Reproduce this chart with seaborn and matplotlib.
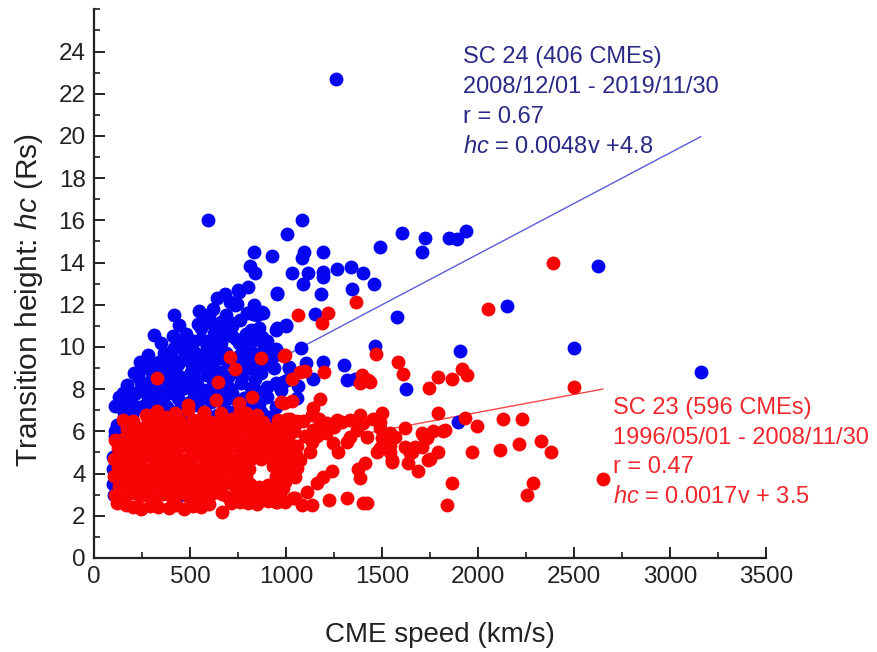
import matplotlib
matplotlib.use("Agg")
import matplotlib.pyplot as plt
from matplotlib.ticker import MultipleLocator, AutoMinorLocator
import pandas as pd
import seaborn as sns

# SC 24 CMEs (speed km/s, transition height Rs)
sc24_speed = [
    1260, 594, 1083, 1005, 1604, 1724, 1708, 1849, 1891, 1937, 1490, 833, 927, 1094, 1083, 1193,
    812, 838, 1031, 1115, 1193, 1193, 1266, 1339, 1401, 1458, 1089, 1344, 802, 750, 953, 1182,
    708, 2625, 2151, 1578, 1151, 1000, 1078, 1464, 1906, 2500, 3161, 1016, 1104, 1193, 1302, 1141,
    984, 1318, 1359, 1625, 969, 1063, 1057, 1896, 734, 755, 955, 747, 833, 877, 851, 799,
    417, 443, 547, 599, 616, 660, 712, 816, 946, 998, 828, 880, 953, 720,
    312, 686, 625, 877, 833, 451, 486, 660, 755, 469, 417, 365, 521, 590, 616, 686,
    781, 885, 920, 382, 434, 503, 573, 729, 799, 851, 208, 243, 295, 347, 417, 451,
    503, 538, 590, 660, 781, 833, 868, 1016, 1007, 972, 130, 191, 252, 347, 408, 469,
    521, 573, 703, 764, 816, 903, 946, 122, 234, 312, 382, 451, 538, 608, 677, 747,
    868, 911, 946, 156, 399, 486,
    560, 520, 640, 700, 760, 820, 560, 470, 530, 620, 700, 740, 620, 480, 400, 320,
    280, 220, 170, 360, 440, 500, 560, 640, 660, 720, 780, 850, 800, 860, 900, 270,
    200, 330, 420, 580, 640, 720, 800, 930, 150, 110, 265, 300, 370, 340, 600, 720,
    790, 540, 580, 870, 940, 980,
    480, 560, 650, 690, 760, 780, 860, 900, 620, 640, 680, 410, 350, 280, 240, 300,
    400, 510, 660, 740, 830, 900, 950, 300, 230, 170, 150, 450, 530, 600, 700, 770,
    840, 380, 440, 250, 330,
    100, 100, 105, 110, 100, 110, 200, 300, 400, 500, 600, 700, 350, 450, 550, 650,
    250, 800, 900, 150,
]
sc24_height = [
    22.7, 16.0, 16.0, 15.35, 15.4, 15.15, 14.5, 15.15, 15.1, 15.5, 14.75, 14.5, 14.3, 14.5, 14.2, 14.5,
    13.85, 13.5, 13.5, 13.5, 13.55, 13.3, 13.7, 13.8, 13.5, 13.0, 13.0, 12.75, 12.85, 12.7, 12.55, 12.5,
    12.15, 13.85, 11.95, 11.4, 11.55, 11.0, 9.95, 10.05, 9.8, 9.95, 8.8, 9.05, 9.25, 9.3, 9.15, 8.5,
    8.35, 8.45, 8.5, 8.0, 8.1, 8.15, 7.6, 6.45, 12.0, 12.62, 12.51, 12.04, 12.0, 11.68, 11.52, 11.6,
    11.52, 11.04, 11.72, 11.52, 11.12, 11.2, 11.12, 10.8, 10.8, 11.04, 11.55, 11.6, 10.9, 11.0,
    10.57, 10.8, 10.65, 10.49, 10.33, 10.17, 10.25, 10.17, 10.17, 9.86, 9.94, 9.7, 9.78, 10.0, 9.46, 9.7,
    9.86, 9.94, 9.39, 9.39, 9.15, 9.23, 9.23, 9.15, 9.31, 9.54, 8.75, 8.28, 8.44, 8.67, 8.91, 8.6,
    8.83, 8.44, 8.67, 8.83, 8.91, 8.91, 8.75, 8.99, 8.44, 7.96, 7.65, 7.57, 8.04, 8.12, 7.8, 8.04,
    7.8, 7.96, 8.04, 8.28, 8.04, 7.65, 8.28, 6.3, 7.17, 6.93, 7.17, 7.33, 7.25, 7.41, 7.09, 7.49,
    6.93, 6.69, 7.17, 6.7, 6.54, 6.7,
    10.4, 10.3, 9.95, 9.3, 9.6, 9.2, 9.6, 9.5, 9.0, 9.0, 8.6, 8.8, 8.4, 8.3, 8.4, 8.0,
    7.7, 7.8, 7.2, 7.5, 7.6, 7.4, 7.6, 7.7, 8.0, 7.8, 7.6, 7.9, 7.2, 7.3, 8.1, 7.3,
    6.8, 6.7, 6.9, 6.9, 6.8, 6.9, 6.7, 6.5, 7.0, 7.2, 9.0, 9.15, 8.9, 9.3, 10.3, 10.5,
    10.6, 11.1, 11.3, 9.0, 9.0, 9.6,
    10.6, 10.9, 10.5, 11.5, 11.3, 10.1, 10.9, 10.3, 11.8, 12.3, 12.5, 10.5, 10.2, 9.6, 9.3, 8.8,
    9.6, 9.6, 9.5, 10.4, 9.7, 9.5, 9.9, 7.5, 8.6, 8.2, 7.8, 8.2, 8.2, 7.8, 7.6, 8.6,
    8.5, 8.1, 9.2, 7.1, 7.9,
    4.8, 3.5, 3.0, 5.8, 4.2, 6.0, 4.0, 3.5, 5.0, 4.5, 3.8, 5.2, 5.5, 3.0, 5.8, 4.2,
    5.2, 4.5, 5.5, 3.8,
]

# SC 23 CMEs: scattered points first, then the dense block row by row
sc23_speed = [
    2391, 2052, 1365, 1063, 1219, 1188, 995, 1469, 1099, 1198, 1031, 1396, 1427, 1385, 1438, 1583,
    1609, 1745, 1792, 1865, 1917, 1943, 2500, 975, 1031, 1177, 1141, 1792, 1932, 1995, 2130, 2229,
    1828, 1969, 2115, 2214, 2328, 2380, 2651, 1865, 2286, 2255, 1838, 1790, 1818, 1708, 1734, 1750,
    1656, 1672, 1635, 1688, 1620, 1568, 1542, 1552, 1490, 1500, 1474, 1422, 1411, 1375, 1385, 1422,
    1401, 1318, 1224, 1240, 1193, 1161, 1109, 1083, 1135, 1047, 984, 995, 1271, 1333, 1370, 1292,
    1245, 1318, 1490, 1542, 1193, 1141, 1135, 1125, 1073, 1010, 1057, 1047, 995, 1385, 1453, 1490,
    1401, 1333, 1266, 1214, 1135, 1500, 1542, 1713, 1766, 1708, 1646, 1740, 1552, 1620,
    328, 708, 734, 646, 872, 990, 1073, 490, 204, 634, 825, 278, 373, 573, 755, 790,
    990, 625, 666, 951, 1038,
    1000, 1040, 1020, 1090, 1060, 1100, 1170, 1160, 1210, 1250, 1050, 1020,
    # h ~ 2.4
    120, 165, 205, 245, 290, 335, 390, 425, 470, 515, 560, 600, 715, 760, 800, 850, 905, 950,
    # h ~ 3.0
    110, 150, 195, 240, 280, 320, 360, 405, 445, 490, 535, 575, 620, 665, 700, 745, 790, 835, 880, 925, 970,
    # h ~ 3.4
    130, 175, 215, 255, 300, 345, 385, 430, 470, 510, 555, 600, 640, 685, 730, 770, 815, 860, 905, 945,
    # h ~ 3.85
    105, 150, 190, 235, 275, 320, 360, 400, 445, 490, 530, 575, 615, 660, 700, 745, 790, 950, 995,
    # h ~ 4.3
    125, 165, 210, 250, 295, 340, 380, 420, 465, 505, 550, 590, 635, 680, 720, 765, 810, 930, 975, 1020,
    # h ~ 4.75
    105, 145, 185, 230, 270, 315, 355, 400, 440, 485, 525, 570, 610, 655, 695, 740, 780, 825, 870, 915, 960, 1005,
    # h ~ 5.2
    125, 170, 210, 255, 295, 335, 380, 420, 460, 505, 545, 590, 630, 675, 715, 760, 800, 845, 890, 935, 985,
    # h ~ 5.65
    110, 150, 195, 235, 280, 320, 365, 405, 445, 490, 530, 575, 615, 660, 700, 740, 785, 830, 870, 915, 960, 1010,
    # h ~ 6.1
    170, 215, 255, 300, 340, 385, 425, 470, 510, 555, 595, 640, 680, 725, 765, 810, 855, 900, 945, 990, 1040,
    # h ~ 6.5
    150, 205, 280, 335, 395, 450, 515, 560, 610, 665, 720, 770, 830, 880, 960, 1005, 1060,
    # h ~ 6.9
    270, 330, 420, 490, 575, 660, 760, 850,
]
sc23_height = [
    14.0, 11.8, 12.15, 11.5, 11.6, 11.15, 9.6, 9.65, 8.85, 8.8, 8.5, 8.65, 8.45, 8.3, 8.35, 9.3,
    8.7, 8.05, 8.6, 8.5, 8.95, 8.65, 8.1, 7.4, 7.45, 7.55, 7.1, 6.85, 6.65, 6.25, 6.6, 6.6,
    6.05, 5.0, 5.1, 5.4, 5.55, 5.0, 3.75, 3.55, 3.55, 3.0, 2.5, 5.0, 6.0, 5.9, 5.7, 4.7,
    5.0, 5.25, 4.5, 4.1, 6.15, 5.75, 5.0, 4.55, 6.45, 5.7, 5.0, 5.75, 4.5, 4.2, 3.8, 2.6,
    2.6, 2.85, 2.75, 4.1, 3.85, 3.55, 3.15, 2.5, 2.5, 2.85, 3.3, 2.65, 5.0, 5.75, 6.05, 6.45,
    5.45, 5.5, 5.2, 5.35, 6.2, 6.05, 5.5, 5.0, 4.65, 4.3, 4.25, 3.85, 3.6, 6.8, 6.6, 6.15,
    6.4, 6.55, 6.55, 6.4, 6.8, 6.85, 5.9, 5.85, 6.0, 5.26, 4.97, 4.65, 4.65, 5.26,
    8.53, 9.53, 8.98, 8.35, 9.5, 9.58, 8.8, 7.25, 6.45, 7.49, 7.65, 6.78, 6.7, 6.85, 7.33, 6.85,
    7.33, 6.23, 2.2, 2.67, 2.83,
    5.5, 6.0, 6.6, 6.5, 5.3, 5.8, 6.6, 5.8, 5.9, 6.2, 4.9, 5.1,
    2.6, 2.5, 2.4, 2.3, 2.45, 2.4, 2.35, 2.5, 2.3, 2.45, 2.4, 2.55, 2.6, 2.65, 2.6, 2.55, 2.7, 2.65,
    3.0, 2.9, 3.1, 2.95, 3.0, 2.85, 3.05, 2.9, 3.1, 2.95, 3.0, 2.9, 3.1, 3.05, 2.9, 3.0, 3.1, 2.95, 3.0, 3.15, 3.05,
    3.4, 3.5, 3.35, 3.45, 3.4, 3.55, 3.35, 3.5, 3.4, 3.45, 3.35, 3.5, 3.4, 3.55, 3.45, 3.4, 3.5, 3.35, 3.45, 3.5,
    3.9, 3.8, 3.85, 3.9, 3.8, 3.95, 3.85, 3.8, 3.9, 3.85, 3.95, 3.8, 3.9, 3.85, 3.8, 3.9, 3.85, 3.9, 3.75,
    4.3, 4.25, 4.35, 4.3, 4.2, 4.35, 4.3, 4.25, 4.4, 4.3, 4.2, 4.35, 4.3, 4.25, 4.4, 4.3, 4.2, 4.35, 4.3, 4.25,
    4.7, 4.8, 4.75, 4.7, 4.85, 4.75, 4.7, 4.8, 4.75, 4.7, 4.85, 4.8, 4.7, 4.75, 4.8, 4.7, 4.85, 4.75, 4.7, 4.8, 4.75, 4.7,
    5.2, 5.15, 5.25, 5.2, 5.1, 5.25, 5.2, 5.15, 5.3, 5.2, 5.1, 5.25, 5.2, 5.15, 5.3, 5.2, 5.1, 5.25, 5.2, 5.15, 5.2,
    5.6, 5.65, 5.7, 5.6, 5.65, 5.75, 5.6, 5.7, 5.65, 5.6, 5.75, 5.65, 5.7, 5.6, 5.65, 5.7, 5.6, 5.75, 5.65, 5.6, 5.7, 5.65,
    6.1, 6.05, 6.15, 6.1, 6.0, 6.15, 6.1, 6.05, 6.2, 6.1, 6.0, 6.15, 6.1, 6.05, 6.2, 6.1, 6.0, 6.15, 6.1, 6.05, 6.2,
    6.55, 6.5, 6.6, 6.45, 6.65, 6.5, 6.55, 6.6, 6.45, 6.5, 6.6, 6.55, 6.5, 6.45, 6.55, 6.6, 6.5,
    6.8, 6.95, 6.85, 7.0, 6.9, 6.85, 6.95, 6.8,
]

# linear fits as printed on the figure: hc = slope * v + intercept
fit24 = {"slope": 0.0048, "intercept": 4.8, "vmin": 900, "vmax": max(sc24_speed)}
fit23 = {"slope": 0.0017, "intercept": 3.5, "vmin": 1300, "vmax": max(sc23_speed)}

blue = "#0505f0"
red = "#f70505"

sns.set_style("ticks")
plt.rcParams["font.family"] = ["Liberation Sans", "DejaVu Sans"]
plt.rcParams["mathtext.fontset"] = "custom"
plt.rcParams["mathtext.rm"] = "Liberation Sans"
plt.rcParams["mathtext.it"] = "Liberation Sans:italic"

df24 = pd.DataFrame({"speed": sc24_speed, "hc": sc24_height})
df23 = pd.DataFrame({"speed": sc23_speed, "hc": sc23_height})

fig = plt.figure(figsize=(8.78, 6.52), dpi=100)
ax = fig.add_axes([0.107, 0.1442, 0.7654, 0.8414])

for fit, col in [(fit24, "#5c5cd8"), (fit23, "#f04848")]:
    xs = [fit["vmin"], fit["vmax"]]
    ys = [fit["slope"] * x + fit["intercept"] for x in xs]
    sns.lineplot(x=xs, y=ys, color=col, linewidth=1.0, ax=ax, zorder=1)

sns.scatterplot(data=df24, x="speed", y="hc", color=blue, s=100, linewidth=0, ax=ax, zorder=2)
sns.scatterplot(data=df23, x="speed", y="hc", color=red, s=100, linewidth=0, ax=ax, zorder=3)

ax.set_xlim(0, 3500)
ax.set_ylim(0, 26)
ax.xaxis.set_major_locator(MultipleLocator(500))
ax.xaxis.set_minor_locator(AutoMinorLocator(2))
ax.yaxis.set_minor_locator(AutoMinorLocator(2))
ax.set_yticks(range(0, 25, 2))
ax.tick_params(which="major", direction="in", length=8, width=1.4, labelsize=17.5, pad=6, color="#222222", labelcolor="#222222")
ax.tick_params(which="minor", direction="in", length=4.5, width=1.2, color="#222222")
sns.despine(ax=ax)
for side in ["left", "bottom"]:
    ax.spines[side].set_linewidth(1.6)
    ax.spines[side].set_color("#222222")

ax.set_xlabel("CME speed (km/s)", fontsize=20, labelpad=24, color="#222222")
ax.set_ylabel(r"Transition height: $\mathit{hc}$ (Rs)", fontsize=21.5, labelpad=10, color="#222222")
ax.xaxis.label.set_x(0.515)
ax.yaxis.label.set_y(0.47)

navy = "#2a2a86"
lines24 = ["SC 24 (406 CMEs)", "2008/12/01 - 2019/11/30", "r = 0.67", r"$\mathit{hc}$ = 0.0048v +4.8"]
for i, t in enumerate(lines24):
    ax.text(1922, 23.74 - i * 1.42, t, color=navy, fontsize=17, ha="left", va="center")

lines23 = ["SC 23 (596 CMEs)", "1996/05/01 - 2008/11/30", "r = 0.47", r"$\mathit{hc}$ = 0.0017v + 3.5"]
for i, t in enumerate(lines23):
    ax.text(2703, 7.11 - i * 1.41, t, color="#f0282d", fontsize=17, ha="left", va="center")

fig.savefig("out.png", dpi=100)
